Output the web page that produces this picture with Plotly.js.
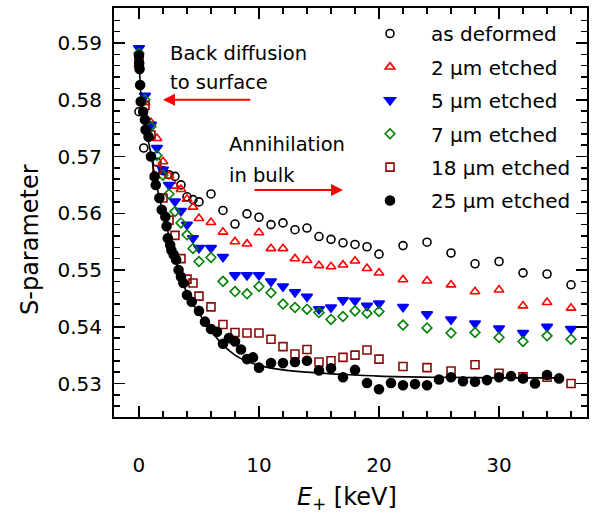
<!DOCTYPE html>
<html>
<head>
<meta charset="utf-8">
<script src="https://cdn.plot.ly/plotly-3.0.1.min.js"></script>
<style>html,body{margin:0;padding:0;background:#fff;}#chart{width:592px;height:517px;}</style>
</head>
<body>
<div id="chart"></div>
<script>
// ---- data ----
const seriesNames = ["as deformed", "2 \u00b5m etched", "5 \u00b5m etched", "7 \u00b5m etched", "18 \u00b5m etched", "25 \u00b5m etched"];

const defX = [0, 0.4, 1.0, 1.5, 2.0, 2.5, 3.0, 3.5, 4.0, 4.5, 5.0, 6, 7, 8, 9, 10, 11, 12, 13, 14, 15, 16, 17, 18, 19, 20, 22, 24, 26, 28, 30, 32, 34, 36];
const defY = [0.5779, 0.5715, 0.5700, 0.5690, 0.5675, 0.5668, 0.5665, 0.5650, 0.5629, 0.5624, 0.5620, 0.5634, 0.5605, 0.5581, 0.5599, 0.5593, 0.5580, 0.5583, 0.5571, 0.5574, 0.5559, 0.5554, 0.5548, 0.5545, 0.5541, 0.5528, 0.5543, 0.5549, 0.5530, 0.5511, 0.5515, 0.5495, 0.5493, 0.5474];

const e2X = [0, 0.5, 1.0, 1.5, 2.0, 2.5, 3.0, 3.5, 4.0, 4.5, 5.0, 6, 7, 8, 9, 10, 11, 12, 13, 14, 15, 16, 17, 18, 19, 20, 22, 24, 26, 28, 30, 32, 34, 36];
const e2Y = [0.5862, 0.5795, 0.5760, 0.5732, 0.5691, 0.5666, 0.5648, 0.5642, 0.5625, 0.5611, 0.5591, 0.5584, 0.5567, 0.5550, 0.5546, 0.5566, 0.5538, 0.5538, 0.5520, 0.5517, 0.5508, 0.5506, 0.5509, 0.5516, 0.5503, 0.5495, 0.5483, 0.5481, 0.5474, 0.5462, 0.5465, 0.5437, 0.5443, 0.5433];

const e5X = [0, 0.5, 1.0, 1.5, 2.0, 2.5, 3.0, 3.5, 4.0, 4.5, 5.0, 6, 7, 8, 9, 10, 11, 12, 13, 14, 15, 16, 17, 18, 19, 20, 22, 24, 26, 28, 30, 32, 34, 36];
const e5Y = [0.5891, 0.5807, 0.5756, 0.5715, 0.5677, 0.5650, 0.5621, 0.5604, 0.5580, 0.5556, 0.5539, 0.5539, 0.5523, 0.5491, 0.5491, 0.5491, 0.5480, 0.5471, 0.5461, 0.5453, 0.5431, 0.5434, 0.5447, 0.5446, 0.5437, 0.5441, 0.5435, 0.5422, 0.5413, 0.5406, 0.5397, 0.5389, 0.5400, 0.5396];

const e7X = [0, 0.5, 1.0, 1.5, 2.0, 2.5, 3.0, 3.5, 4.0, 4.5, 5.0, 6, 7, 8, 9, 10, 11, 12, 13, 14, 15, 16, 17, 18, 19, 20, 22, 24, 26, 28, 30, 32, 34, 36];
const e7Y = [0.5882, 0.5800, 0.5753, 0.5702, 0.5667, 0.5634, 0.5603, 0.5583, 0.5562, 0.5538, 0.5515, 0.5522, 0.5480, 0.5462, 0.5458, 0.5471, 0.5460, 0.5440, 0.5434, 0.5431, 0.5425, 0.5413, 0.5418, 0.5428, 0.5424, 0.5427, 0.5403, 0.5398, 0.5389, 0.5390, 0.5381, 0.5374, 0.5384, 0.5378];

const e18X = [0, 0.5, 1.0, 1.5, 2.0, 2.5, 3.0, 3.5, 4.0, 4.5, 5.0, 6, 7, 8, 9, 10, 11, 12, 13, 14, 15, 16, 17, 18, 19, 20, 22, 24, 26, 28, 30, 32, 34, 36];
const e18Y = [0.5865, 0.5790, 0.5738, 0.5677, 0.5627, 0.5588, 0.5561, 0.5520, 0.5484, 0.5477, 0.5454, 0.5435, 0.5404, 0.5390, 0.5389, 0.5389, 0.5378, 0.5365, 0.5352, 0.5360, 0.5338, 0.5340, 0.5346, 0.5350, 0.5359, 0.5343, 0.5330, 0.5328, 0.5322, 0.5333, 0.5318, 0.5312, 0.5311, 0.5300];

const e25X = [0, 0.02, 0.05, 0.1, 0.15, 0.35, 0.5, 0.55, 0.8, 1.0, 1.3, 1.4, 1.7, 1.9, 2.2, 2.3, 2.4, 2.6, 2.7, 2.9, 3.1, 3.3, 3.5, 3.7, 4.0, 4.4, 5.0, 5.5, 6.0, 6.5, 7.0, 7.5, 8.0, 8.5, 9.0, 9.5, 10, 11, 12, 13, 14, 15, 16, 17, 18, 19, 20, 21, 22, 23, 24, 25, 26, 27, 28, 29, 30, 31, 32, 33, 34, 35];
const e25Y = [0.5878, 0.5865, 0.5854, 0.5826, 0.5797, 0.5779, 0.5765, 0.5747, 0.5735, 0.5700, 0.5665, 0.5650, 0.5627, 0.5606, 0.5594, 0.5577, 0.5556, 0.5544, 0.5535, 0.5527, 0.5518, 0.5500, 0.5488, 0.5477, 0.5456, 0.5444, 0.5428, 0.5409, 0.5396, 0.5391, 0.5370, 0.5380, 0.5374, 0.5360, 0.5343, 0.5346, 0.5328, 0.5336, 0.5336, 0.5338, 0.5340, 0.5323, 0.5327, 0.5311, 0.5324, 0.5301, 0.5290, 0.5301, 0.5297, 0.5299, 0.5297, 0.5307, 0.5311, 0.5304, 0.5303, 0.5306, 0.5311, 0.5313, 0.5309, 0.5300, 0.5315, 0.5309];

const fitX = [0, 0.1, 0.2, 0.35, 0.55, 0.9, 1.3, 1.7, 2.3, 2.9, 3.5, 4.0, 4.5, 5.0, 6.0, 7.0, 8.0, 9.0, 10, 12, 14, 17, 20, 25, 30, 35];
const fitY = [0.5885, 0.5830, 0.5800, 0.5779, 0.5750, 0.5715, 0.5668, 0.5627, 0.5577, 0.5527, 0.5488, 0.5459, 0.5440, 0.5424, 0.5393, 0.5368, 0.5350, 0.5339, 0.5332, 0.5324, 0.5320, 0.5316, 0.5313, 0.5311, 0.5310, 0.5310];

const xTickVals = [0, 10, 20, 30];
const yTickVals = [0.53, 0.54, 0.55, 0.56, 0.57, 0.58, 0.59];

// ---- styles ----
const FONT = "DejaVu Sans, Liberation Sans, Arial, sans-serif";
function mk(name, x, y, symbol, color, size, group) {
  return {
    type: "scatter", mode: "markers", name: name, x: x, y: y,
    legendgroup: group,
    marker: {symbol: symbol, size: size, color: color, line: {color: color, width: 1.6}},
    cliponaxis: false
  };
}
const traces = [
  mk(seriesNames[0], defX, defY, "circle-open", "#000000", 8, "g0"),
  mk(seriesNames[1], e2X, e2Y, "triangle-up-open", "#ff0000", 8.5, "g1"),
  mk(seriesNames[2], e5X, e5Y, "triangle-down", "#0000ff", 9.5, "g2"),
  mk(seriesNames[3], e7X, e7Y, "diamond-open", "#008000", 7.5, "g3"),
  mk(seriesNames[4], e18X, e18Y, "square-open", "#8b0a0a", 8, "g4"),
  mk(seriesNames[5], e25X, e25Y, "circle", "#000000", 9, "g5"),
  {type: "scatter", mode: "lines", x: fitX, y: fitY, showlegend: false, legendgroup: "g6",
   line: {color: "#000000", width: 1.6, shape: "spline", smoothing: 1}}
];

const W = 592, H = 517, L = 114, R = 5, T = 8, B = 100;
const pw = W - L - R, ph = H - T - B;
const px = v => (v - L) / pw;
const py = v => 1 - (v - T) / ph;

const axisCommon = {
  showline: true, linewidth: 2, linecolor: "#000", mirror: "ticks",
  ticks: "inside", ticklen: 11, tickwidth: 1.5, tickcolor: "#000",
  showgrid: false, zeroline: false,
  tickfont: {family: FONT, size: 20, color: "#000"}
};

const layout = {
  width: W, height: H,
  margin: {l: L, r: R, t: T, b: B},
  paper_bgcolor: "#fff", plot_bgcolor: "#fff",
  font: {family: FONT, color: "#000"},
  xaxis: Object.assign({}, axisCommon, {
    range: [-2.08, 37.33], tickvals: xTickVals, ticklabelstandoff: 29,
    minor: {ticks: "inside", ticklen: 6, tickwidth: 1.5, tickcolor: "#000", dtick: 2, tick0: 0, showgrid: false}
  }),
  yaxis: Object.assign({}, axisCommon, {
    range: [0.52410, 0.59617], tickvals: yTickVals, ticklabelstandoff: 6,
    tickformat: ".2f",
    minor: {ticks: "inside", ticklen: 6, tickwidth: 1.5, tickcolor: "#000", dtick: 0.002, tick0: 0.52, showgrid: false}
  }),
  showlegend: true,
  legend: {
    x: px(349), y: py(14), xanchor: "left", yanchor: "top",
    bgcolor: "rgba(0,0,0,0)", borderwidth: 0,
    font: {family: FONT, size: 20, color: "#000"},
    itemwidth: 72, tracegroupgap: 4.4, traceorder: "grouped"
  },
  annotations: [
    {xref: "paper", yref: "paper", x: px(30), y: py(240), text: "S-parameter", textangle: -90,
     showarrow: false, font: {family: FONT, size: 24}, xanchor: "center", yanchor: "middle"},
    {xref: "paper", yref: "paper", x: px(347), y: py(499), text: "<i>E</i><sub>+</sub> [keV]",
     showarrow: false, font: {family: FONT, size: 24}, xanchor: "center", yanchor: "middle"},
    {xref: "paper", yref: "paper", x: px(168), y: py(53), text: "Back diffusion",
     showarrow: false, font: {family: FONT, size: 19.5}, xanchor: "left", yanchor: "middle"},
    {xref: "paper", yref: "paper", x: px(168), y: py(82), text: "to surface",
     showarrow: false, font: {family: FONT, size: 19.5}, xanchor: "left", yanchor: "middle"},
    {xref: "paper", yref: "paper", x: px(227), y: py(144), text: "Annihilation",
     showarrow: false, font: {family: FONT, size: 19.5}, xanchor: "left", yanchor: "middle"},
    {xref: "paper", yref: "paper", x: px(227), y: py(175), text: "in bulk",
     showarrow: false, font: {family: FONT, size: 19.5}, xanchor: "left", yanchor: "middle"},
    {xref: "x", yref: "y", x: 2.0, y: 0.5800, ax: 9.4, ay: 0.5800, axref: "x", ayref: "y",
     text: "", showarrow: true, arrowhead: 2, arrowsize: 1.2, arrowwidth: 2, arrowcolor: "#ff0000"},
    {xref: "x", yref: "y", x: 17.0, y: 0.5641, ax: 9.5, ay: 0.5641, axref: "x", ayref: "y",
     text: "", showarrow: true, arrowhead: 2, arrowsize: 1.2, arrowwidth: 2, arrowcolor: "#ff0000"}
  ]
};

Plotly.newPlot("chart", traces, layout, {displayModeBar: false, staticPlot: true});
</script>
</body>
</html>
